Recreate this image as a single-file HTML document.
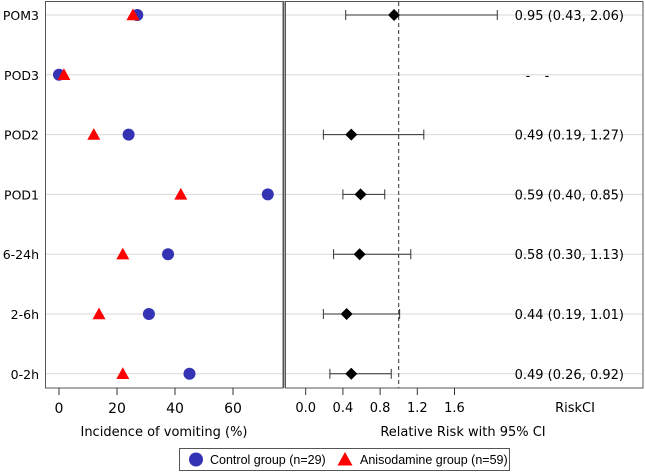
<!DOCTYPE html>
<html><head><meta charset="utf-8"><style>
body{margin:0;background:#fff}
svg{display:block;font-family:"DejaVu Sans","Liberation Sans",sans-serif}
</style></head><body>
<svg id="c" width="645" height="472"></svg>
<script>
const categories=["POM3","POD3","POD2","POD1","6-24h","2-6h","0-2h"];
const controlPct=[27,0,24,72,37.6,31,45];
const anisoPct=[25.5,1.7,12,42,22,13.8,22];
const rr=[0.95,null,0.49,0.59,0.58,0.44,0.49];
const lo=[0.43,null,0.19,0.40,0.30,0.19,0.26];
const hi=[2.06,null,1.27,0.85,1.13,1.01,0.92];
const ciText=["0.95 (0.43, 2.06)","- -","0.49 (0.19, 1.27)","0.59 (0.40, 0.85)","0.58 (0.30, 1.13)","0.44 (0.19, 1.01)","0.49 (0.26, 0.92)"];
const leftTicks=[0,20,40,60];
const rightTicks=["0.0","0.4","0.8","1.2","1.6"];
const NS="http://www.w3.org/2000/svg";
const svg=document.getElementById('c');
function mk(t,a,p){const e=document.createElementNS(NS,t);for(const k in a)e.setAttribute(k,a[k]);(p||svg).appendChild(e);return e;}
const xL=v=>59+2.9*v;
const xR=v=>305.7+93*v;
const yR=i=>15+i*59.8;
const rightClip=643;
categories.forEach((c,i)=>{
 const g=mk('line',{x1:45,x2:283,y1:yR(i),y2:yR(i),stroke:'#d8d8d8'});
 
 const g2=mk('line',{x1:286,x2:643,y1:yR(i),y2:yR(i),stroke:'#d8d8d8'});
 
 const t=mk('text',{x:39,y:yR(i)+5,'text-anchor':'end','font-size':12.5});t.textContent=c;
 
});
let b=mk('rect',{x:45.5,y:1.5,width:237.5,height:386.5,fill:'none',stroke:'#555'});

b=mk('rect',{x:285.5,y:1.5,width:357.5,height:386.5,fill:'none',stroke:'#555'});

b=mk('line',{x1:283.5,x2:283.5,y1:1,y2:388,stroke:'#555','stroke-width':2});

b=mk('line',{x1:xR(1),x2:xR(1),y1:2,y2:388,stroke:'#333','stroke-dasharray':'4,3'});

leftTicks.forEach(v=>{
 const l=mk('line',{x1:xL(v),x2:xL(v),y1:388,y2:395,stroke:'#333'});
 
 const t=mk('text',{x:xL(v),y:413,'text-anchor':'middle','font-size':14});t.textContent=v;
 
});
rightTicks.forEach(s=>{
 const v=parseFloat(s);
 const l=mk('line',{x1:xR(v),x2:xR(v),y1:388,y2:395,stroke:'#333'});
 
 const t=mk('text',{x:xR(v),y:412,'text-anchor':'middle','font-size':13});t.textContent=s;
 
});
let t=mk('text',{x:575,y:412,'text-anchor':'middle','font-size':13});t.textContent='RiskCI';

t=mk('text',{x:164,y:436,'text-anchor':'middle','font-size':13});t.textContent='Incidence of vomiting (%)';

t=mk('text',{x:463,y:436,'text-anchor':'middle','font-size':13});t.textContent='Relative Risk with 95% CI';

function tri(cx,cy,s){return `${cx},${cy-s} ${cx-s},${cy+s*0.8} ${cx+s},${cy+s*0.8}`;}
categories.forEach((c,i)=>{
 const y=yR(i);
 const ci=mk('circle',{cx:xL(controlPct[i]),cy:y,r:6,fill:'#3333b3'});
 
 const tr=mk('polygon',{points:tri(xL(anisoPct[i]),y,6.5),fill:'#f00'});
 
 if(rr[i]!=null){
  const x1=xR(lo[i]),x2=Math.min(xR(hi[i]),rightClip);
  const l=mk('line',{x1:x1,x2:x2,y1:y,y2:y,stroke:'#333'});
  
  [x1,x2].forEach(x=>{const c2=mk('line',{x1:x,x2:x,y1:y-5,y2:y+5,stroke:'#333'});
   });
  const xc=xR(rr[i]);
  const d=mk('polygon',{points:`${xc},${y-6} ${xc+6},${y} ${xc},${y+6} ${xc-6},${y}`,fill:'#000'});
  
  const tx=mk('text',{x:624,y:y+5,'text-anchor':'end','font-size':13});tx.textContent=ciText[i];
  
 } else {
  const parts=ciText[i].split(' ');
  parts.forEach((p,k)=>{
   const tx=mk('text',{x:528+k*19,y:y+5,'text-anchor':'middle','font-size':13});tx.textContent=p;
   
  });
 }
});
b=mk('rect',{x:179.5,y:448.5,width:330,height:22,fill:'#fff',stroke:'#555'});

b=mk('circle',{cx:196,cy:459.5,r:7,fill:'#3333b3'});

t=mk('text',{x:210,y:464,'font-size':12.5,'font-family':'"Liberation Sans",sans-serif'});t.textContent='Control group (n=29)';

b=mk('polygon',{points:tri(345,459.5,7.5),fill:'#f00'});

t=mk('text',{x:360,y:464,'font-size':12.5,'font-family':'"Liberation Sans",sans-serif'});t.textContent='Anisodamine group (n=59)';

</script>
</body></html>
